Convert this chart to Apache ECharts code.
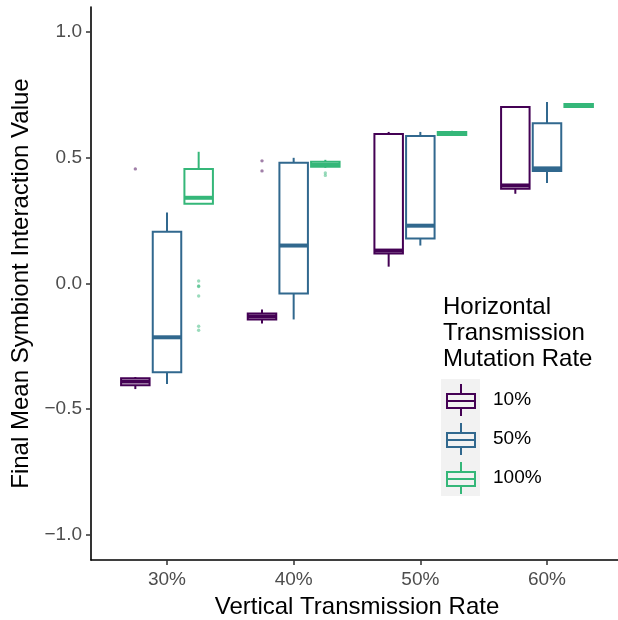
<!DOCTYPE html>
<html><head><meta charset="utf-8">
<script src="https://cdn.jsdelivr.net/npm/echarts@6/dist/echarts.min.js"></script>
<style>html,body{margin:0;padding:0;background:#fff}#c{width:618px;height:620px}</style>
</head><body><div id="c"></div>
<script>
const categories = ['30%', '40%', '50%', '60%'];
const groups = ['10%', '50%', '100%'];
const colors = ['#440154', '#31688E', '#35B779'];
const yTicks = [-1, -0.5, 0, 0.5, 1];
// per category: [lower whisker, Q1, median, Q3, upper whisker]
const box10 = [
  [-0.42, -0.405, -0.39, -0.377, -0.372],
  [-0.159, -0.143, -0.131, -0.119, -0.103],
  [0.067, 0.119, 0.131, 0.595, 0.603],
  [0.357, 0.377, 0.39, 0.702, 0.706]
];
const box50 = [
  [-0.40, -0.353, -0.214, 0.206, 0.282],
  [-0.143, -0.04, 0.151, 0.48, 0.50],
  [0.151, 0.179, 0.23, 0.587, 0.603],
  [0.40, 0.448, 0.458, 0.638, 0.722]
];
const box100 = [
  [0.317, 0.317, 0.341, 0.456, 0.524],
  [0.46, 0.464, 0.472, 0.484, 0.492],
  [0.588, 0.591, 0.597, 0.603, 0.608],
  [0.70, 0.702, 0.708, 0.714, 0.716]
];
// outliers: [category index, value]
const out10 = [[0, 0.456], [1, 0.488], [1, 0.448]];
const out50 = [];
const out100 = [[0, 0.01], [0, -0.01], [0, -0.012], [0, -0.05], [0, -0.17], [0, -0.186], [1, 0.44], [1, 0.43]];

const boxes = [box10, box50, box100];
const outs = [out10, out50, out100];
const FONT = '"Liberation Sans", Arial, Helvetica, sans-serif';
const LW = 2;

function boxRender(j) {
  return function (params, api) {
    const band = api.size([1, 0])[0];
    const off = (j - 1) * 0.25 * band;
    const hw = 0.225 * band / 2;
    const xi = api.value(0);
    const cx = api.coord([xi, 0])[0] + off;
    const y = k => api.coord([xi, api.value(k)])[1];
    const lo = y(1), q1 = y(2), md = y(3), q3 = y(4), hi = y(5);
    const col = colors[j];
    return {
      type: 'group', children: [
        { type: 'line', shape: { x1: cx, y1: q3, x2: cx, y2: hi }, style: { stroke: col, lineWidth: LW } },
        { type: 'line', shape: { x1: cx, y1: q1, x2: cx, y2: lo }, style: { stroke: col, lineWidth: LW } },
        { type: 'rect', shape: { x: cx - hw, y: q3, width: 2 * hw, height: q1 - q3 }, style: { stroke: col, lineWidth: LW, fill: '#fff' } },
        { type: 'line', shape: { x1: cx - hw, y1: md, x2: cx + hw, y2: md }, style: { stroke: col, lineWidth: LW * 2 } }
      ]
    };
  };
}
function pointRender(j) {
  return function (params, api) {
    const band = api.size([1, 0])[0];
    const off = (j - 1) * 0.25 * band;
    const p = api.coord([api.value(0), api.value(1)]);
    return { type: 'circle', shape: { cx: p[0] + off, cy: p[1], r: 1.7 }, style: { fill: colors[j], opacity: 0.5 } };
  };
}

const boxIcon = 'path://M14 0H16V9H14Z M0 9H30V11H0Z M0 23H30V25H0Z M0 11H2V23H0Z M28 11H30V23H28Z M2 16H28V18H2Z M14 25H16V32H14Z';

const series = [];
groups.forEach((g, j) => {
  series.push({
    type: 'custom', name: g, renderItem: boxRender(j),
    itemStyle: { color: colors[j] },
    encode: { x: 0, y: [1, 2, 3, 4, 5] },
    data: boxes[j].map((b, i) => [i].concat(b)), z: 2
  });
  series.push({
    type: 'custom', name: g, renderItem: pointRender(j),
    itemStyle: { color: colors[j] },
    encode: { x: 0, y: 1 },
    data: outs[j], z: 3
  });
});

const chart = echarts.init(document.getElementById('c'), null, { renderer: 'canvas' });
chart.setOption({
  animation: false,
  backgroundColor: '#fff',
  textStyle: { fontFamily: FONT },
  title: {
    text: 'Horizontal\nTransmission\nMutation Rate', left: 443, top: 294, padding: 0,
    textStyle: { fontFamily: FONT, fontSize: 24, fontWeight: 'normal', color: '#000', lineHeight: 26 }
  },
  graphic: [{ type: 'rect', shape: { x: 441, y: 379, width: 39, height: 117 }, style: { fill: '#F2F2F2' }, z: -1 }],
  legend: {
    orient: 'vertical', left: 446, top: 384, padding: 0,
    itemWidth: 30, itemHeight: 32, itemGap: 7,
    textStyle: { fontFamily: FONT, fontSize: 19, color: '#000', padding: [0, 0, 0, 12] },
    data: groups.map((g, j) => ({ name: g, icon: boxIcon, itemStyle: { color: colors[j], borderWidth: 0 } }))
  },
  grid: { left: 91, top: 7, width: 532, height: 553, containLabel: false, outerBoundsMode: 'none' },
  xAxis: {
    type: 'value', min: -0.6, max: 3.6,
    name: 'Vertical Transmission Rate', nameLocation: 'middle', nameGap: 35,
    nameTextStyle: { fontFamily: FONT, fontSize: 24, color: '#000' },
    axisLine: { show: true, onZero: false, lineStyle: { color: '#000', width: 1.6 } },
    axisTick: { show: true, customValues: [0, 1, 2, 3], length: 5, lineStyle: { color: '#333', width: 1.5 } },
    axisLabel: { customValues: [0, 1, 2, 3], formatter: v => categories[Math.round(v)], fontSize: 19, color: '#4D4D4D', margin: 10, fontFamily: FONT },
    splitLine: { show: false }
  },
  yAxis: {
    type: 'value', min: -1.1, max: 1.1,
    name: 'Final Mean Symbiont Interaction Value', nameLocation: 'middle', nameGap: 57,
    nameTextStyle: { fontFamily: FONT, fontSize: 24, color: '#000' },
    axisLine: { show: true, onZero: false, lineStyle: { color: '#000', width: 1.6 } },
    axisTick: { show: true, customValues: yTicks, length: 5, lineStyle: { color: '#333', width: 1.5 } },
    axisLabel: { customValues: yTicks, formatter: v => v.toFixed(1).replace('-', '\u2212'), fontSize: 19, color: '#4D4D4D', margin: 9, fontFamily: FONT },
    splitLine: { show: false }
  },
  series: series
});
</script></body></html>
